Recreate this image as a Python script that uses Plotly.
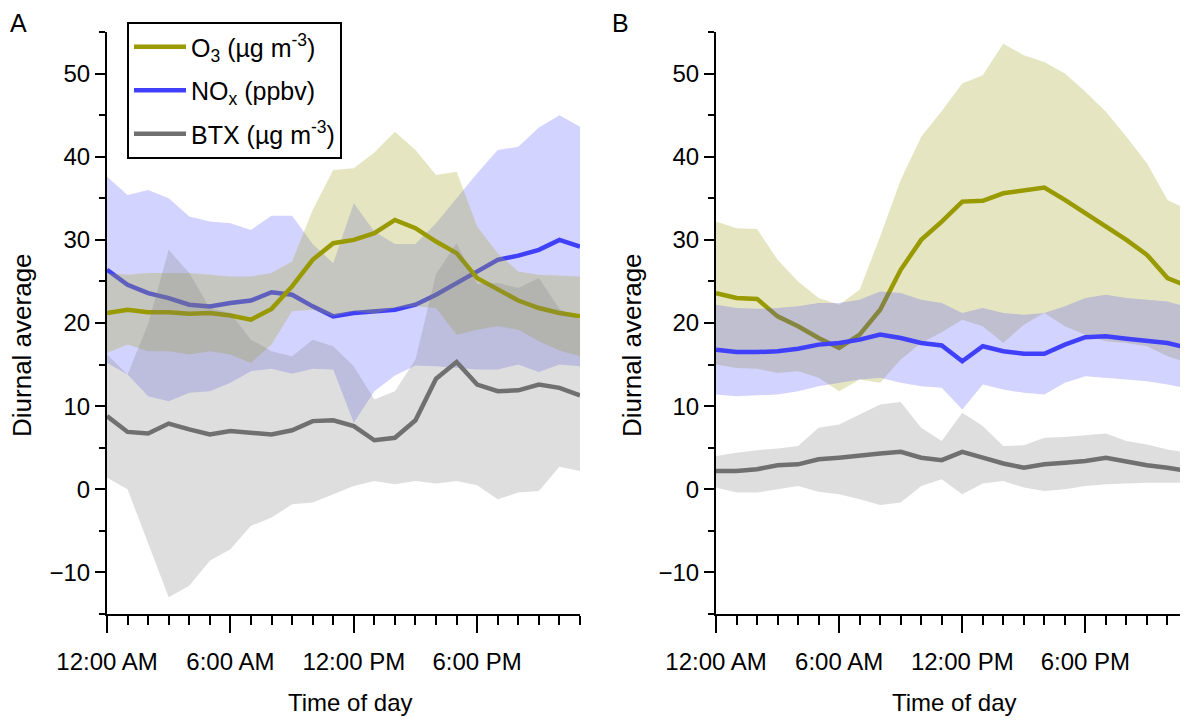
import plotly.graph_objects as go

# page body adds an 8 px margin; figure is sized/placed to compensate
OFF = 8
W, H = 1188 - OFF, 721 - OFF

hours = list(range(24))
tick_vals = [0, 6, 12, 18]
tick_text = ["12:00 AM", "6:00 AM", "12:00 PM", "6:00 PM"]

# ---------------- Panel A ----------------
a_o3_mean = [21.2, 21.6, 21.3, 21.3, 21.1, 21.2, 20.9, 20.4, 21.7, 24.4, 27.6, 29.6,
             30.0, 30.8, 32.4, 31.4, 29.8, 28.4, 25.4, 24.0, 22.7, 21.8, 21.2, 20.8]
a_o3_upper = [26.0, 25.8, 26.0, 26.0, 26.0, 25.8, 25.6, 25.6, 26.0, 27.4, 33.6, 38.4,
              38.6, 40.5, 43.0, 40.8, 37.8, 38.2, 31.6, 28.4, 26.2, 25.8, 25.7, 25.6]
a_o3_lower = [16.4, 17.4, 16.6, 16.6, 16.2, 16.6, 16.2, 15.2, 17.4, 21.4, 21.6, 20.8,
              21.4, 21.1, 21.8, 22.0, 21.8, 18.6, 19.2, 19.6, 19.2, 17.8, 16.7, 16.0]

a_nox_mean = [26.4, 24.6, 23.6, 23.0, 22.2, 22.0, 22.4, 22.7, 23.7, 23.4, 22.0, 20.8,
              21.2, 21.4, 21.6, 22.2, 23.4, 24.8, 26.2, 27.6, 28.1, 28.8, 30.0, 29.2]
a_nox_upper = [37.6, 35.4, 36.0, 35.0, 32.8, 32.2, 32.0, 31.2, 32.9, 32.9, 29.5, 27.2,
               34.4, 31.0, 29.5, 29.5, 32.0, 35.0, 38.0, 40.8, 41.2, 43.5, 45.0, 43.6]
a_nox_lower = [15.2, 13.8, 11.2, 10.6, 11.6, 11.8, 12.8, 14.2, 14.5, 13.9, 14.5, 14.4,
               8.0, 11.8, 13.7, 14.9, 14.8, 14.6, 14.4, 14.4, 15.0, 14.1, 15.0, 14.8]

a_btx_mean = [8.8, 6.9, 6.7, 7.9, 7.2, 6.6, 7.0, 6.8, 6.6, 7.1, 8.2, 8.3,
              7.6, 5.9, 6.2, 8.3, 13.3, 15.3, 12.6, 11.8, 11.9, 12.6, 12.2, 11.3]
a_btx_upper = [16.2, 13.8, 19.9, 28.8, 26.0, 21.8, 21.2, 18.0, 16.6, 16.0, 18.0, 17.2,
               14.8, 10.8, 11.8, 15.6, 25.9, 29.6, 24.7, 24.8, 24.2, 25.4, 21.7, 20.4]
a_btx_lower = [1.4, 0.0, -6.5, -13.0, -11.6, -8.6, -7.2, -4.4, -3.4, -1.8, -1.6, -0.6,
               0.4, 1.0, 0.6, 1.0, 0.7, 1.0, 0.5, -1.2, -0.4, -0.2, 2.7, 2.2]

# ---------------- Panel B ----------------
b_o3_mean = [23.6, 23.0, 22.9, 20.8, 19.6, 18.2, 17.0, 18.6, 21.6, 26.4, 30.0, 32.2,
             34.6, 34.7, 35.6, 36.0, 36.3, 34.8, 33.2, 31.6, 30.0, 28.2, 25.4, 24.4]
b_o3_upper = [32.2, 31.4, 31.3, 27.6, 25.0, 23.0, 22.2, 24.0, 30.4, 37.2, 42.4, 45.5,
              48.8, 49.8, 53.6, 52.2, 51.4, 50.0, 47.8, 45.4, 42.4, 39.2, 34.8, 33.6]
b_o3_lower = [15.0, 14.6, 14.5, 14.0, 14.2, 13.4, 11.8, 13.2, 12.8, 15.6, 17.6, 18.9,
              20.4, 19.6, 17.6, 19.8, 21.2, 19.6, 18.6, 17.8, 17.6, 17.2, 16.0, 15.2]

b_nox_mean = [16.8, 16.5, 16.5, 16.6, 16.9, 17.4, 17.6, 18.0, 18.6, 18.2, 17.6, 17.3,
              15.4, 17.2, 16.6, 16.3, 16.3, 17.4, 18.3, 18.4, 18.1, 17.9, 17.6, 17.0]
b_nox_upper = [22.2, 21.8, 21.7, 21.8, 22.0, 22.4, 22.4, 22.8, 23.8, 23.6, 22.8, 22.4,
               21.2, 21.8, 21.2, 21.0, 21.2, 22.0, 23.0, 23.4, 23.0, 22.8, 22.6, 21.9]
b_nox_lower = [11.4, 11.2, 11.3, 11.4, 11.8, 12.4, 12.8, 13.2, 13.4, 12.8, 12.4, 12.2,
               9.6, 12.6, 12.0, 11.6, 11.4, 12.8, 13.6, 13.4, 13.2, 13.0, 12.6, 12.1]

b_btx_mean = [2.2, 2.2, 2.4, 2.9, 3.0, 3.6, 3.8, 4.1, 4.3, 4.5, 3.8, 3.5,
              4.5, 3.8, 3.1, 2.6, 3.0, 3.2, 3.4, 3.8, 3.3, 2.9, 2.6, 2.2]
b_btx_upper = [4.0, 4.4, 4.7, 4.9, 5.2, 7.4, 7.8, 9.0, 10.2, 10.5, 7.4, 5.8,
               9.2, 7.6, 5.2, 5.3, 6.2, 6.3, 6.5, 6.7, 5.8, 5.4, 4.8, 4.4]
b_btx_lower = [0.2, -0.4, -0.4, 0.0, 0.4, -0.3, -0.6, -1.2, -1.9, -1.6, 0.4, 1.2,
               -0.6, 0.7, 1.0, 0.2, -0.2, 0.0, 0.4, 0.6, 0.7, 0.8, 0.8, 0.8]

O3_LINE, O3_FILL = "rgb(153,153,0)", "rgba(170,170,50,0.30)"
NOX_LINE, NOX_FILL = "rgb(64,64,250)", "rgba(80,80,255,0.25)"
BTX_LINE, BTX_FILL = "rgb(112,112,112)", "rgba(128,128,128,0.26)"

FONT = "Liberation Sans, Arial, sans-serif"
FS = 24


def px_x(x):
    return (x - OFF) / W


def px_y(y):
    return (H - (y - OFF)) / H


fig = go.Figure()


def band(lower, upper, fill, xa, ya):
    fig.add_trace(go.Scatter(
        x=hours + hours[::-1], y=upper + lower[::-1], mode="lines",
        fill="toself", fillcolor=fill, line=dict(width=0),
        hoverinfo="skip", showlegend=False, xaxis=xa, yaxis=ya))


def line(mean, color, name, xa, ya, show, rank):
    fig.add_trace(go.Scatter(
        x=hours, y=mean, mode="lines", name=name, legendgroup=name,
        line=dict(color=color, width=4.5), showlegend=show,
        legendrank=rank, xaxis=xa, yaxis=ya))


O3_NAME = "O<sub>3</sub> (µg m<sup>-3</sup>)"
NOX_NAME = "NO<sub>x</sub> (ppbv)"
BTX_NAME = "BTX (µg m<sup>-3</sup>)"

# Panel A drawing order
band(a_nox_lower, a_nox_upper, NOX_FILL, "x", "y")
line(a_nox_mean, NOX_LINE, NOX_NAME, "x", "y", True, 2)
band(a_o3_lower, a_o3_upper, O3_FILL, "x", "y")
line(a_o3_mean, O3_LINE, O3_NAME, "x", "y", True, 1)
band(a_btx_lower, a_btx_upper, BTX_FILL, "x", "y")
line(a_btx_mean, BTX_LINE, BTX_NAME, "x", "y", True, 3)

# Panel B drawing order
band(b_o3_lower, b_o3_upper, O3_FILL, "x2", "y2")
line(b_o3_mean, O3_LINE, O3_NAME, "x2", "y2", False, 1)
band(b_nox_lower, b_nox_upper, NOX_FILL, "x2", "y2")
line(b_nox_mean, NOX_LINE, NOX_NAME, "x2", "y2", False, 2)
band(b_btx_lower, b_btx_upper, BTX_FILL, "x2", "y2")
line(b_btx_mean, BTX_LINE, BTX_NAME, "x2", "y2", False, 3)

ydom = [px_y(614), px_y(32)]

xcommon = dict(
    range=[0, 23], showgrid=False, zeroline=False, showline=True, automargin=False,
    linecolor="black", linewidth=2, ticks="outside", ticklen=17, tickwidth=2,
    tickcolor="black", tickmode="array", tickvals=tick_vals, ticktext=tick_text,
    tickfont=dict(family=FONT, size=FS, color="black"), ticklabelstandoff=8,
    minor=dict(dtick=1, tick0=0, ticks="outside", ticklen=9, tickwidth=2,
               tickcolor="black", showgrid=False),
    fixedrange=True,
)
ycommon = dict(
    range=[-15, 55], showgrid=False, zeroline=False, showline=True, automargin=False,
    linecolor="black", linewidth=2, ticks="outside", ticklen=10, tickwidth=2,
    tickcolor="black", tickmode="linear", tick0=0, dtick=10,
    tickfont=dict(family=FONT, size=FS, color="black"),
    minor=dict(dtick=5, tick0=0, ticks="outside", ticklen=6, tickwidth=2,
               tickcolor="black", showgrid=False),
    domain=ydom, fixedrange=True,
)

fig.update_layout(
    width=W, height=H,
    margin=dict(l=0, r=0, t=0, b=0, autoexpand=False),
    paper_bgcolor="white", plot_bgcolor="white",
    font=dict(family=FONT, size=FS, color="black"),
    xaxis=dict(domain=[px_x(107), px_x(580)], anchor="y", **xcommon),
    yaxis=dict(anchor="x", **ycommon),
    xaxis2=dict(domain=[px_x(716), 1.0], anchor="y2", **xcommon),
    yaxis2=dict(anchor="x2", **ycommon),
    legend=dict(x=px_x(127), y=px_y(22), xanchor="left", yanchor="top",
                bordercolor="black", borderwidth=2, bgcolor="white",
                font=dict(family=FONT, size=25, color="black"),
                itemwidth=52, traceorder="grouped", tracegroupgap=8),
    showlegend=True,
)

annos = [
    dict(text="A", x=px_x(9), y=1.0, xanchor="left", yanchor="top", size=25),
    dict(text="B", x=px_x(611), y=1.0, xanchor="left", yanchor="top", size=25),
    dict(text="Time of day", x=px_x(350), y=px_y(702), xanchor="center", yanchor="middle", size=FS),
    dict(text="Time of day", x=px_x(955), y=px_y(702), xanchor="center", yanchor="middle", size=FS),
]
for a in annos:
    fig.add_annotation(text=a["text"], x=a["x"], y=a["y"], xref="paper", yref="paper",
                       xanchor=a["xanchor"], yanchor=a["yanchor"], showarrow=False,
                       borderpad=0,
                       font=dict(family=FONT, size=a["size"], color="black"))
for xpx in (22, 632):
    fig.add_annotation(text="Diurnal average", x=px_x(xpx), y=px_y(345),
                       xref="paper", yref="paper", textangle=-90, showarrow=False,
                       xanchor="center", yanchor="middle",
                       font=dict(family=FONT, size=26, color="black"))

fig.write_html("out.html")
